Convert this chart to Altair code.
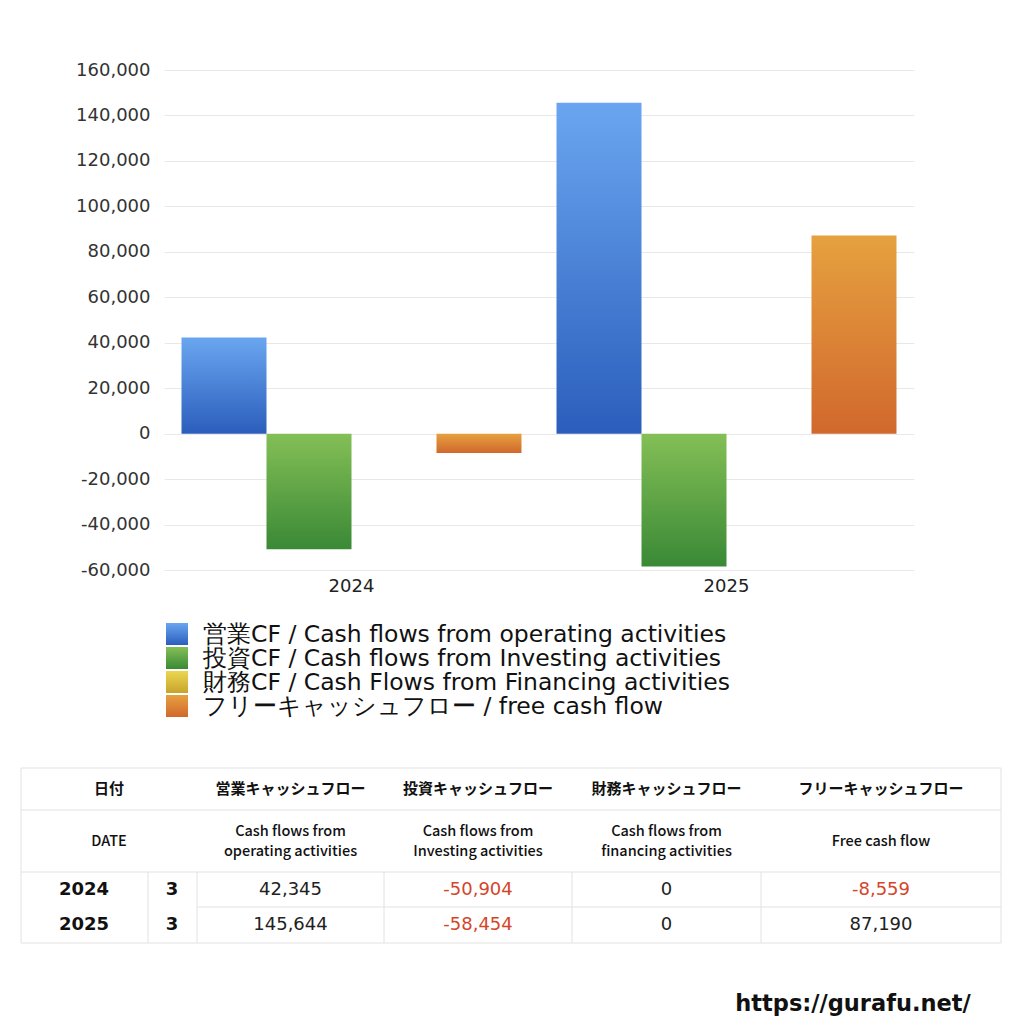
import altair as alt
import pandas as pd

# ---------------- data ----------------
years = ["2024", "2025"]
months = ["3", "3"]
series_keys = ["op", "inv", "fin", "free"]
series_labels = [
    "営業CF / Cash flows from operating activities",
    "投資CF / Cash flows from Investing activities",
    "財務CF / Cash Flows from Financing activities",
    "フリーキャッシュフロー / free cash flow",
]
operating = [42345, 145644]
investing = [-50904, -58454]
financing = [0, 0]
free_cf = [-8559, 87190]

header_jp = ["日付", "営業キャッシュフロー", "投資キャッシュフロー", "財務キャッシュフロー", "フリーキャッシュフロー"]
header_en_top = ["Cash flows from", "Cash flows from", "Cash flows from"]
header_en_bottom = ["operating activities", "Investing activities", "financing activities"]
url_text = "https://gurafu.net/"

# ---------------- styles ----------------
gradients = {
    "op": ("#6aa6f0", "#2b5ebc"),
    "inv": ("#84bf56", "#3a8936"),
    "fin": ("#ecd650", "#c7a42c"),
    "free": ("#e6a13f", "#d1682d"),
}
LATIN = "DejaVu Sans"
JP = "Noto Sans CJK JP"


def grad(k):
    top, bot = gradients[k]
    return {
        "gradient": "linear", "x1": 0, "y1": 0, "x2": 0, "y2": 1,
        "stops": [{"offset": 0, "color": top}, {"offset": 1, "color": bot}],
    }


# ---------------- bar chart ----------------
series_values = [operating, investing, financing, free_cf]
rows = []
for i, yr in enumerate(years):
    for k, vals in zip(series_keys, series_values):
        rows.append({"year": yr, "series": k, "value": vals[i]})
df = pd.DataFrame(rows)

x_enc = alt.X(
    "year:N",
    scale=alt.Scale(paddingInner=0, paddingOuter=0),
    axis=alt.Axis(title=None, labelAngle=0, domain=False, ticks=False,
                  labelFont=LATIN, labelFontSize=18, labelColor="#222",
                  labelPadding=7),
)
xo_enc = alt.XOffset("series:N", scale=alt.Scale(domain=series_keys, paddingInner=0, paddingOuter=0.206))
y_enc = alt.Y(
    "value:Q",
    scale=alt.Scale(domain=[-60000, 160000], nice=False, zero=False),
    axis=alt.Axis(title=None, values=list(range(-60000, 160001, 20000)),
                  labelExpr="replace(format(datum.value, ','), '\u2212', '-')",
                  domain=False, ticks=False, gridColor="#e8e8e8", gridWidth=1,
                  labelFont=LATIN, labelFontSize=18, labelColor="#333",
                  labelPadding=14),
)

bar_layers = []
for k in series_keys:
    bar_layers.append(
        alt.Chart(df).transform_filter(alt.datum.series == k)
        .mark_bar(color=grad(k), strokeWidth=0)
        .encode(x=x_enc, xOffset=xo_enc, y=y_enc)
    )
bars = alt.layer(*bar_layers).properties(width=750, height=500)

# ---------------- legend ----------------
leg_df = pd.DataFrame({"series": series_keys, "label": series_labels})
leg_y = alt.Y("series:N", scale=alt.Scale(domain=series_keys, paddingInner=0, paddingOuter=0), axis=None)
leg_x = alt.Scale(domain=[0, 750], nice=False, zero=False)
legend_layers = []
for k in series_keys:
    legend_layers.append(
        alt.Chart(leg_df).transform_filter(alt.datum.series == k)
        .transform_calculate(px="13")
        .mark_square(size=484, fill=grad(k), opacity=1, strokeWidth=0)
        .encode(x=alt.X("px:Q", scale=leg_x, axis=None), y=leg_y)
    )
legend_text = (
    alt.Chart(leg_df).transform_calculate(px="39")
    .mark_text(align="left", baseline="middle", font=LATIN, fontSize=23.5, color="#111", dy=1)
    .encode(x=alt.X("px:Q", scale=leg_x, axis=None), y=leg_y, text="label:N")
)
legend = alt.layer(*legend_layers, legend_text).properties(width=750, height=96)

# ---------------- table ----------------
# table layout (pixels, origin = table top-left corner)
col_edges = [0, 127, 176, 363, 551, 740, 980]
row_edges = [0, 42, 104, 139, 175]
col_centers = [(col_edges[i] + col_edges[i + 1]) / 2 for i in range(2, 6)]
date_center = 88

lines = [
    # horizontal
    (0, 0, 980, 0), (0, 42, 980, 42), (0, 104, 980, 104),
    (176, 139, 980, 139), (0, 175, 980, 175),
    # vertical
    (0, 0, 0, 175), (980, 0, 980, 175),
]
for cx in col_edges[1:6]:
    lines.append((cx, 104, cx, 175))
lines_df = pd.DataFrame(lines, columns=["x1", "y1", "x2", "y2"])

tx = alt.Scale(domain=[143, 980], nice=False, zero=False)
ty = alt.Scale(domain=[2, 252], nice=False, zero=False, reverse=True)

rules = alt.Chart(lines_df).mark_rule(color="#e2e2e2", strokeWidth=1).encode(
    x=alt.X("x1:Q", scale=tx, axis=None), y=alt.Y("y1:Q", scale=ty, axis=None),
    x2="x2:Q", y2="y2:Q",
)


def text_layer(d, size, weight="normal", font=LATIN, color="#111", align="center"):
    return alt.Chart(pd.DataFrame(d)).mark_text(
        align=align, baseline="middle", font=font, fontSize=size, fontWeight=weight,
    ).encode(
        x=alt.X("x:Q", scale=tx, axis=None), y=alt.Y("y:Q", scale=ty, axis=None),
        text="t:N", color=alt.Color("c:N", scale=None),
    )


hj = {"x": [date_center] + col_centers, "y": [21] * 5, "t": header_jp, "c": ["#111"] * 5}
he = {
    "x": [date_center] + col_centers[:3] + col_centers[:3] + [col_centers[3]],
    "y": [74] + [64] * 3 + [84] * 3 + [74],
    "t": ["DATE"] + header_en_top + header_en_bottom + ["Free cash flow"],
    "c": ["#111"] * 8,
}
yr = {
    "x": [63, 63, 151, 151], "y": [122, 157, 122, 157],
    "t": years + months, "c": ["#111"] * 4,
}
vx, vy, vt, vc = [], [], [], []
for i in range(len(years)):
    for j, vals in enumerate(series_values):
        v = vals[i]
        vx.append(col_centers[j])
        vy.append(122 if i == 0 else 157)
        vt.append(f"{v:,}")
        vc.append("#d4462b" if v < 0 else "#222")
vals_d = {"x": vx, "y": vy, "t": vt, "c": vc}
url_d = {"x": [852 - 20], "y": [236], "t": [url_text], "c": ["#111"]}

table = alt.layer(
    rules,
    text_layer(hj, 15, "bold", JP),
    text_layer(he, 14.5, 500, JP),
    text_layer(yr, 18, "bold"),
    text_layer(vals_d, 18),
    text_layer(url_d, 22.5, "bold"),
).properties(width=837, height=250)

chart = alt.vconcat(bars, legend, table, spacing=52, bounds="flush").configure(
    padding={"left": 12, "top": 53, "right": 5, "bottom": 0},
    background="white",
).configure_view(stroke=None)

chart.save("out.html", embed_options={"renderer": "svg", "actions": False})
